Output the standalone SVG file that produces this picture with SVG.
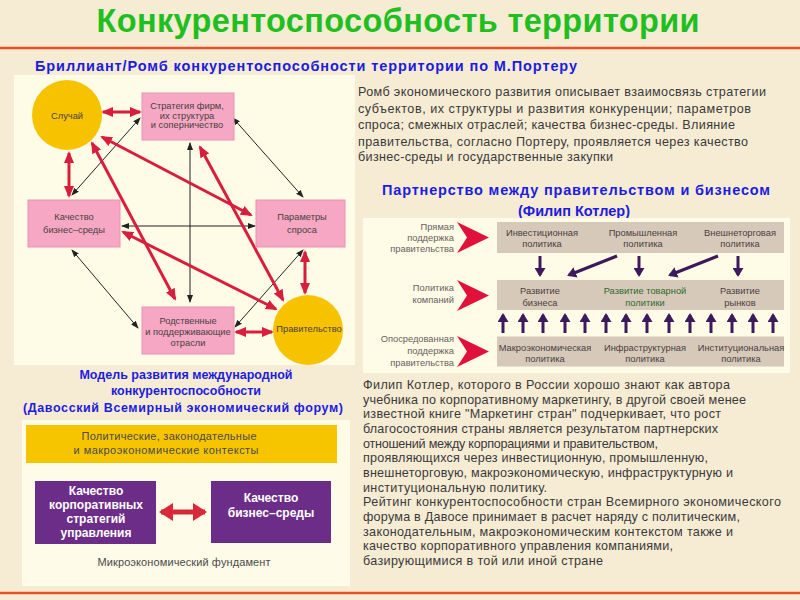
<svg xmlns="http://www.w3.org/2000/svg" width="800" height="600" viewBox="0 0 800 600">
<defs>
<style>
.t{font-family:"Liberation Sans",Arial,sans-serif}
.ttl{font-size:32.5px;font-weight:bold;fill:#1fbf1f}
.sub{font-size:14.5px;font-weight:bold;fill:#1c1ce0}
.para{font-size:12.6px;fill:#3a3a3a}
.sm{font-size:9.3px;fill:#4a4040}
.lab{font-size:9.3px;fill:#6a6060}
.dv{font-size:12.5px;font-weight:bold;fill:#1c1ce0}
.pw{font-size:12px;font-weight:bold;fill:#ffffff}
.gr{font-size:11px;fill:#4a4a4a}
.pink{fill:#f5a7c3;stroke:#e893b2;stroke-width:1}
.circ{fill:#f7c300}
.kb{fill:#d6c9b9}
.red{stroke:#d81e3c;stroke-width:3;fill:none;marker-start:url(#rh);marker-end:url(#rh)}
.blk{stroke:#222;stroke-width:1;fill:none;marker-start:url(#bh);marker-end:url(#bh)}
.pur{stroke:#3c1a5c;stroke-width:3;fill:none;marker-end:url(#ph)}
.chev{fill:#e0123c}
</style>
<marker id="rh" viewBox="0 0 12 10" markerWidth="12" markerHeight="10" refX="10" refY="5" orient="auto-start-reverse" markerUnits="userSpaceOnUse"><path d="M0,0 L12,5 L0,10 z" fill="#d81e3c"/></marker>
<marker id="bh" viewBox="0 0 8 6" markerWidth="8" markerHeight="6" refX="7" refY="3" orient="auto-start-reverse" markerUnits="userSpaceOnUse"><path d="M0,0 L8,3 L0,6 z" fill="#222"/></marker>
<marker id="ph" viewBox="0 0 9 11" markerWidth="9" markerHeight="11" refX="7" refY="5.5" orient="auto" markerUnits="userSpaceOnUse"><path d="M0,0 L9,5.5 L0,11 z" fill="#3c1a5c"/></marker>
<marker id="dh" viewBox="0 0 14 18" markerWidth="14" markerHeight="18" refX="12" refY="9" orient="auto-start-reverse" markerUnits="userSpaceOnUse"><path d="M0,0 L14,9 L0,18 z" fill="#d8283a"/></marker>
</defs>

<!-- background -->
<rect x="0" y="0" width="800" height="600" fill="#f6ebd3"/>
<line x1="0" y1="48" x2="800" y2="48" stroke="#e8502a" stroke-width="2.5"/>
<line x1="0" y1="593" x2="800" y2="593" stroke="#e8502a" stroke-width="2.5"/>

<!-- titles -->
<text class="t ttl" x="398" y="32" text-anchor="middle" textLength="603">Конкурентоспособность территории</text>
<text class="t sub" x="35" y="71" textLength="542">Бриллиант/Ромб конкурентоспособности территории по М.Портеру</text>

<!-- Porter paragraph -->
<g id="porter-text" class="t para">
<text x="358" y="96" textLength="408">Ромб экономического развития описывает взаимосвязь стратегии</text>
<text x="358" y="112.5" textLength="393">субъектов, их структуры и развития конкуренции; параметров</text>
<text x="358" y="129" textLength="377">спроса; смежных отраслей; качества бизнес-среды. Влияние</text>
<text x="358" y="145.5" textLength="390">правительства, согласно Портеру, проявляется через качество</text>
<text x="358" y="161" textLength="255">бизнес-среды и государственные закупки</text>
</g>

<!-- Porter diamond panel -->
<rect x="14" y="75" width="341" height="290" fill="#fefbe6"/>

<g id="connectors">
<line class="blk" x1="140" y1="118" x2="72" y2="195"/>
<line class="blk" x1="233" y1="118" x2="303" y2="197"/>
<line class="blk" x1="190" y1="143" x2="190" y2="302"/>
<line class="blk" x1="122" y1="226" x2="255" y2="226"/>
<line class="blk" x1="72" y1="250" x2="138" y2="328"/>
<line class="blk" x1="303" y1="250" x2="235" y2="327"/>
<line class="red" x1="103" y1="112" x2="140" y2="112"/>
<line class="red" x1="69" y1="153" x2="69" y2="196"/>
<line class="red" x1="102" y1="137" x2="251" y2="215"/>
<line class="red" x1="92" y1="143" x2="175" y2="299"/>
<line class="red" x1="200" y1="147" x2="283" y2="300"/>
<line class="red" x1="123" y1="232" x2="276" y2="309"/>
<line class="red" x1="305" y1="252" x2="305" y2="293"/>
<line class="red" x1="236" y1="332" x2="272" y2="332"/>
</g>

<g id="sluchai">
<circle class="circ" cx="67" cy="115" r="35"/>
<text class="t sm" x="67" y="118.5" text-anchor="middle">Случай</text>
</g>
<g id="strategy">
<rect class="pink" x="142" y="93" width="92" height="47"/>
<text class="t sm" text-anchor="middle"><tspan x="187" y="109">Стратегия фирм,</tspan><tspan x="187" y="118.5">их структура</tspan><tspan x="187" y="128">и соперничество</tspan></text>
</g>
<g id="business-env">
<rect class="pink" x="28" y="200" width="92" height="47"/>
<text class="t sm" text-anchor="middle"><tspan x="74" y="220">Качество</tspan><tspan x="74" y="232.5">бизнес–среды</tspan></text>
</g>
<g id="demand">
<rect class="pink" x="256" y="200" width="89" height="47"/>
<text class="t sm" text-anchor="middle"><tspan x="302" y="220">Параметры</tspan><tspan x="302" y="232.5">спроса</tspan></text>
</g>
<g id="related">
<rect class="pink" x="142" y="307" width="92" height="47"/>
<text class="t sm" text-anchor="middle"><tspan x="188" y="323.5">Родственные</tspan><tspan x="188" y="335">и поддерживающие</tspan><tspan x="188" y="346">отрасли</tspan></text>
</g>
<g id="government">
<circle class="circ" cx="308" cy="330" r="35"/>
<text class="t sm" x="309" y="331.5" text-anchor="middle">Правительство</text>
</g>

<!-- Kotler title -->
<text class="t sub" x="576" y="195" text-anchor="middle" textLength="388">Партнерство между правительством и бизнесом</text>
<text class="t sub" x="574" y="216" text-anchor="middle">(Филип Котлер)</text>

<!-- Kotler diagram -->
<rect x="363" y="218" width="427" height="155" fill="#fefbe6"/>
<g id="kotler-labels" class="t lab" text-anchor="end">
<text x="454" y="230">Прямая</text><text x="454" y="241">поддержка</text><text x="454" y="252">правительства</text>
<text x="454" y="291">Политика</text><text x="454" y="303">компаний</text>
<text x="454" y="342">Опосредованная</text><text x="454" y="354">поддержка</text><text x="454" y="366">правительства</text>
</g>
<g id="kotler-chevrons" class="chev">
<polygon points="457,222 489,237.5 457,253 467,237.5"/>
<polygon points="457,280 489,295.5 457,311 467,295.5"/>
<polygon points="457,336 489,351.5 457,367 467,351.5"/>
</g>
<g id="kotler-top">
<rect class="kb" x="497" y="222" width="287" height="31"/>
<text class="t sm" text-anchor="middle"><tspan x="542" y="236">Инвестиционная</tspan><tspan x="542" y="247">политика</tspan></text>
<text class="t sm" text-anchor="middle"><tspan x="643" y="236">Промышленная</tspan><tspan x="643" y="247">политика</tspan></text>
<text class="t sm" text-anchor="middle"><tspan x="740" y="236">Внешнеторговая</tspan><tspan x="740" y="247">политика</tspan></text>
</g>
<g id="kotler-mid">
<rect class="kb" x="497" y="280" width="287" height="30"/>
<text class="t sm" text-anchor="middle"><tspan x="540" y="294">Развитие</tspan><tspan x="540" y="306">бизнеса</tspan></text>
<text class="t sm" text-anchor="middle" style="fill:#2e6a2e"><tspan x="645" y="294">Развитие товарной</tspan><tspan x="645" y="306">политики</tspan></text>
<text class="t sm" text-anchor="middle"><tspan x="740" y="294">Развитие</tspan><tspan x="740" y="306">рынков</tspan></text>
</g>
<g id="kotler-bottom">
<rect class="kb" x="497" y="336.5" width="287" height="30"/>
<text class="t sm" text-anchor="middle"><tspan x="545" y="350.5">Макроэкономическая</tspan><tspan x="545" y="362">политика</tspan></text>
<text class="t sm" text-anchor="middle"><tspan x="645" y="350.5">Инфраструктурная</tspan><tspan x="645" y="362">политика</tspan></text>
<text class="t sm" text-anchor="middle"><tspan x="741" y="350.5">Институциональная</tspan><tspan x="741" y="362">политика</tspan></text>
</g>
<g id="kotler-connectors">
<line class="pur" x1="540" y1="256" x2="540" y2="275"/>
<line class="pur" x1="639" y1="256" x2="639" y2="275"/>
<line class="pur" x1="738" y1="256" x2="738" y2="275"/>
<line class="pur" x1="617" y1="256" x2="569" y2="275"/>
<line class="pur" x1="718" y1="256" x2="670" y2="275"/>
<line class="pur" x1="503" y1="333" x2="503" y2="315"/>
<line class="pur" x1="523" y1="333" x2="523" y2="315"/>
<line class="pur" x1="543" y1="333" x2="543" y2="315"/>
<line class="pur" x1="565" y1="333" x2="565" y2="315"/>
<line class="pur" x1="585" y1="333" x2="585" y2="315"/>
<line class="pur" x1="606" y1="333" x2="606" y2="315"/>
<line class="pur" x1="626" y1="333" x2="626" y2="315"/>
<line class="pur" x1="647" y1="333" x2="647" y2="315"/>
<line class="pur" x1="669" y1="333" x2="669" y2="315"/>
<line class="pur" x1="690" y1="333" x2="690" y2="315"/>
<line class="pur" x1="711" y1="333" x2="711" y2="315"/>
<line class="pur" x1="732" y1="333" x2="732" y2="315"/>
<line class="pur" x1="753" y1="333" x2="753" y2="315"/>
<line class="pur" x1="773" y1="333" x2="773" y2="315"/>
</g>

<!-- Davos -->
<g id="davos-title" class="t dv" text-anchor="middle">
<text x="186" y="378.5">Модель развития международной</text>
<text x="186" y="395">конкурентоспособности</text>
<text x="183" y="411.5" textLength="320">(Давосский Всемирный экономический форум)</text>
</g>
<rect x="22" y="420" width="328" height="166" fill="#fefbe8"/>
<g id="davos-context">
<rect x="26" y="425" width="311" height="38" fill="#f6c500"/>
<text class="t gr" text-anchor="middle"><tspan x="169" y="440" textLength="175">Политические, законодательные</tspan><tspan x="166" y="453.5" textLength="185">и макроэкономические контексты</tspan></text>
</g>
<g id="davos-corporate">
<rect x="35" y="481" width="121" height="63" fill="#6c2d88"/>
<text class="t pw" text-anchor="middle"><tspan x="96" y="495">Качество</tspan><tspan x="96" y="509.3">корпоративных</tspan><tspan x="96" y="523.3">стратегий</tspan><tspan x="96" y="537.3">управления</tspan></text>
</g>
<g id="davos-business">
<rect x="211" y="481" width="120" height="62" fill="#6c2d88"/>
<text class="t pw" text-anchor="middle"><tspan x="271" y="501.7">Качество</tspan><tspan x="271" y="516.7">бизнес–среды</tspan></text>
</g>
<g id="davos-connector">
<line x1="161" y1="512" x2="205" y2="512" stroke="#d8283a" stroke-width="5" marker-start="url(#dh)" marker-end="url(#dh)"/>
</g>
<text class="t gr" x="184" y="566" text-anchor="middle" textLength="173">Микроэкономический фундамент</text>

<!-- Kotler paragraph -->
<g id="kotler-text" class="t para">
<text x="363" y="389" textLength="367">Филип Котлер, которого в России хорошо знают как автора</text>
<text x="363" y="403.7" textLength="383">учебника по корпоративному маркетингу, в другой своей менее</text>
<text x="363" y="418.3" textLength="358">известной книге "Маркетинг стран" подчеркивает, что рост</text>
<text x="363" y="433" textLength="355">благосостояния страны является результатом партнерских</text>
<text x="363" y="447.7" textLength="295">отношений между корпорациями и правительством,</text>
<text x="363" y="462.3" textLength="345">проявляющихся через инвестиционную, промышленную,</text>
<text x="363" y="477" textLength="370">внешнеторговую, макроэкономическую, инфраструктурную и</text>
<text x="363" y="491.7" textLength="184">институциональную политику.</text>
<text x="363" y="506.3" textLength="418">Рейтинг конкурентоспособности стран Всемирного экономического</text>
<text x="363" y="521" textLength="377">форума в Давосе принимает в расчет наряду с политическим,</text>
<text x="363" y="535.7" textLength="370">законодательным, макроэкономическим контекстом также и</text>
<text x="363" y="550.3" textLength="310">качество корпоративного управления компаниями,</text>
<text x="363" y="565" textLength="240">базирующимися в той или иной стране</text>
</g>
</svg>
